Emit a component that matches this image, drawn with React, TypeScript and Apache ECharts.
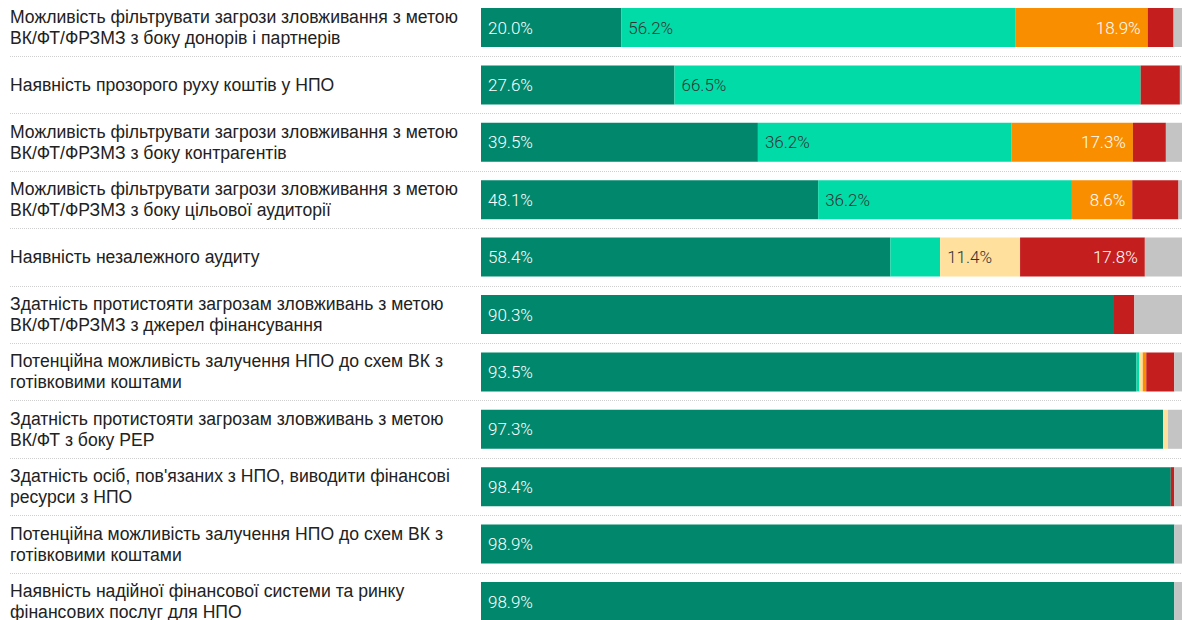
import React, { useEffect, useRef } from "react";
import * as echarts from "echarts";

const categories = [
  "Можливість фільтрувати загрози зловживання з метою\nВК/ФТ/ФРЗМЗ з боку донорів і партнерів",
  "Наявність прозорого руху коштів у НПО",
  "Можливість фільтрувати загрози зловживання з метою\nВК/ФТ/ФРЗМЗ з боку контрагентів",
  "Можливість фільтрувати загрози зловживання з метою\nВК/ФТ/ФРЗМЗ з боку цільової аудиторії",
  "Наявність незалежного аудиту",
  "Здатність протистояти загрозам зловживань з метою\nВК/ФТ/ФРЗМЗ з джерел фінансування",
  "Потенційна можливість залучення НПО до схем ВК з\nготівковими коштами",
  "Здатність протистояти загрозам зловживань з метою\nВК/ФТ з боку PEP",
  "Здатність осіб, пов'язаних з НПО, виводити фінансові\nресурси з НПО",
  "Потенційна можливість залучення НПО до схем ВК з\nготівковими коштами",
  "Наявність надійної фінансової системи та ринку\nфінансових послуг для НПО",
];

const seriesNames = ["Високий", "Достатній", "Середній", "Низький", "Дуже низький", "Немає відповіді"];

const veryHigh = [20.0, 27.6, 39.5, 48.1, 58.4, 90.3, 93.5, 97.3, 98.4, 98.9, 98.9];
const high = [56.2, 66.5, 36.2, 36.2, 7.1, 0, 0.4, 0, 0, 0, 0];
const medium = [0, 0, 0, 0, 11.4, 0, 0.5, 0.7, 0, 0, 0];
const low = [18.9, 0, 17.3, 8.6, 0, 0, 0.5, 0, 0, 0, 0];
const veryLow = [3.7, 5.6, 4.7, 6.6, 17.8, 2.9, 4.0, 0, 0.5, 0, 0];
const noAnswer = [1.2, 0.3, 2.3, 0.5, 5.3, 6.8, 1.1, 2.0, 1.1, 1.1, 1.1];

const colors = ["#00876c", "#00dba8", "#ffe09c", "#f98e00", "#c41e1e", "#c4c4c4"];
const labelColors = ["#ffffff", "#333333", "#333333", "#ffffff", "#ffffff", "#333333"];
const labelPositions = ["insideLeft", "insideLeft", "insideLeft", "insideRight", "insideRight", "insideRight"];

export default function App() {
  const ref = useRef<HTMLDivElement>(null);
  useEffect(() => {
    if (!ref.current) return;
    const chart = echarts.init(ref.current, null, { renderer: "svg" });
    const values = [veryHigh, high, medium, low, veryLow, noAnswer];
    const gridTop = 18.8;
    const gridHeight = 631.4;
    chart.setOption({
      animation: false,
      grid: [
        { left: 481, right: 0, top: gridTop, height: gridHeight },
        { left: 10, right: 0, top: gridTop, height: gridHeight },
      ],
      xAxis: [
        { type: "value", min: 0, max: 100, show: false, gridIndex: 0 },
        { type: "value", min: 0, max: 100, show: false, gridIndex: 1 },
      ],
      yAxis: [
        {
          type: "category",
          data: categories,
          inverse: true,
          gridIndex: 0,
          axisLine: { show: false },
          axisTick: { show: false },
          splitLine: { show: false },
          axisLabel: {
            align: "left",
            margin: 471,
            fontFamily: "Liberation Sans",
            fontSize: 17.6,
            lineHeight: 21,
            color: "#222222",
          },
          z: 3,
        },
        {
          type: "category",
          data: categories,
          inverse: true,
          gridIndex: 1,
          axisLine: { show: false },
          axisTick: { show: false },
          axisLabel: { show: false },
          splitLine: { show: true, lineStyle: { color: "#cfcfcf", type: [1, 1], width: 1 } },
        },
      ],
      series: seriesNames.map((name, i) => ({
        name,
        type: "bar",
        stack: "total",
        xAxisIndex: 0,
        yAxisIndex: 0,
        barCategoryGap: "32%",
        data: values[i],
        itemStyle: { color: colors[i] },
        label: {
          show: true,
          position: labelPositions[i],
          distance: 7,
          fontFamily: "Roboto",
          fontSize: 17,
          fontWeight: 300,
          color: labelColors[i],
          formatter: (p: any) => (p.value >= 8 ? `${Number(p.value).toFixed(1)}%` : ""),
        },
      })),
    });
    return () => chart.dispose();
  }, []);
  return (
    <div
      style={{ position: "absolute", left: 0, top: 0, width: 1182, height: 620, overflow: "hidden" }}
    >
      <div
        ref={ref}
        style={{ position: "absolute", left: 0, top: -20, width: 1182, height: 680 }}
      />
    </div>
  );
}
